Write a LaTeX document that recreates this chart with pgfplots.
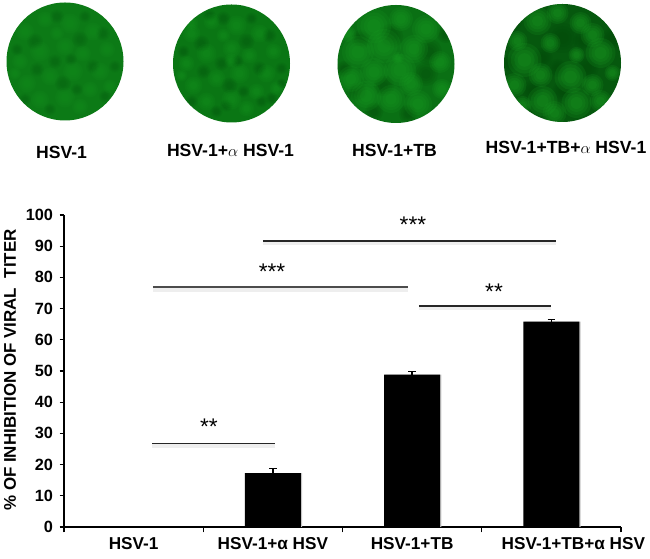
\documentclass[border=0pt]{standalone}
\usepackage{fontspec}
\setmainfont{Liberation Sans}
\usepackage{pgfplots}
\pgfplotsset{compat=1.18}

\definecolor{discA}{RGB}{12,122,22}
\definecolor{discB}{RGB}{10,118,20}
\definecolor{discC}{RGB}{10,112,20}
\definecolor{discD}{RGB}{6,88,14}
\definecolor{spotlight}{RGB}{28,165,38}
\definecolor{spotdark}{RGB}{3,72,10}

\newcommand{\spotop}{0.14}
% spots in px, from the centre of the disc: x/y/radius
\newcommand{\spots}[2]{%
  \edef\spotlist{#2}%
  \foreach \a/\b/\r in \spotlist {
    \foreach \s in {1,0.8,0.6,0.4} {
      \fill[#1, opacity=\spotop] (\a,\b) circle ({\r*\s});
    }
  }%
}
\newcommand{\disc}[5]{% cx, cy, colour, bright list, dark list
  \begin{scope}[shift={(#1,#2)}]
    \begin{scope}
      \clip (0,0) ellipse (58.5 and 59);
      \fill[#3] (-60,-60) rectangle (60,60);
      \spots{spotdark}{#5}
      \spots{spotlight}{#4}
    \end{scope}
  \end{scope}
}

\newcommand{\fineA}{-40/-30/9,-20/-42/8,5/-38/10,28/-30/9,42/-12/8,-45/0/8,-25/-10/10,0/-15/9,18/-8/8,35/10/9,-38/22/9,-15/15/9,8/10/10,25/28/8,-25/38/9,0/36/10,15/45/8,-8/-28/7,45/25/7,-50/12/6}
\newcommand{\fineB}{-30/-20/8,-8/-45/7,15/-22/8,38/-28/7,-48/-12/6,-10/0/7,6/-2/6,28/5/7,50/5/6,-28/8/7,-2/22/8,40/35/6,-40/38/6,12/28/6,-15/48/6,20/-45/6}

\begin{document}
\begin{tikzpicture}[font=\bfseries]
\path[use as bounding box] (0,0) rectangle (487.5pt,419.25pt);

\begin{scope}[x=0.75pt,y=-0.75pt,shift={(0pt,419.25pt)}]
  \renewcommand{\spotop}{0.07}
  \disc{65}{61.5}{discA}{\fineA}{\fineB}
  \renewcommand{\spotop}{0.09}
  \disc{231.5}{63.5}{discB}{\fineA,0/-3/7,-40/-40/7}{\fineB,30/38/6,50/20/5,-5/42/6,-22/-48/6}
  \renewcommand{\spotop}{0.14}
  \disc{396}{64}{discC}{-22/-38/17,5/-45/12,30/-35/14,-38/-12/16,-12/-18/17,18/-15/14,-45/15/13,-22/8/14,4/6/16,15/20/12,44/-2/11,-30/32/15,-5/35/14,22/40/14,46/25/10,-48/-30/8,2/-6/6}{-5/-28/12,33/-12/13,-35/-25/9,-38/28/9,-12/22/10,30/10/12,12/50/9,-22/48/9,-52/5/8,50/-30/9}
  \renewcommand{\spotop}{0.16}
  \disc{562.5}{63}{discD}{-25/-42/14,-5/-50/11,18/-40/11,30/-28/12,-45/-22/10,-38/-3/17,-12/-20/10,38/-10/15,14/-8/8,-22/12/12,8/14/16,30/22/11,-48/22/12,-20/38/15,-8/50/12,14/40/15,38/38/11,-40/42/9,50/10/8}{0/-25/15,-20/-5/10,20/-22/9,25/5/11,-30/28/10,0/28/10,50/-25/10,-52/0/8,-50/-40/9,45/50/10,-5/5/9}

  \node[font=\bfseries\fontsize{13.2}{14}\selectfont] at (61.5,152) {HSV-1};
  \node[font=\bfseries\fontsize{13.2}{14}\selectfont] at (230.5,150) {HSV-1+$\alpha$ HSV-1};
  \node[font=\bfseries\fontsize{13.2}{14}\selectfont] at (394.5,150) {HSV-1+TB};
  \node[font=\bfseries\fontsize{13.2}{14}\selectfont] at (566,147) {HSV-1+TB+$\alpha$ HSV-1};
\end{scope}

\begin{axis}[
  at={(48pt,24pt)}, anchor=south west,
  scale only axis, width=417.75pt, height=234pt,
  xmin=0, xmax=4, ymin=0, ymax=100,
  axis x line=bottom, axis y line=left,
  axis line style={-, line width=0.8pt},
  clip=false,
  xtick={0.5,1.5,2.5,3.5},
  xticklabels={HSV-1,HSV-1+α HSV,HSV-1+TB,\hspace*{33pt}HSV-1+TB+α HSV},
  minor xtick={0,1,2,3,4},
  major x tick style={draw=none},
  minor x tick style={line width=0.8pt,black},
  ytick={0,10,...,100},
  y tick style={line width=0.8pt,black},
  tick align=outside,
  major tick length=3.2pt, minor tick length=4pt,
  x tick label style={font=\bfseries\fontsize{12.9}{14}\selectfont, yshift=-14pt, anchor=base, text depth=0pt},
  y tick label style={font=\bfseries\fontsize{12.2}{14}\selectfont, xshift=-1.5pt},
  /pgf/number format/assume math mode=true,
  ylabel={\% OF INHIBITION OF VIRAL\ \ TITER},
  ylabel style={at={(axis description cs:-0.097,0.503)}, anchor=center,
    font=\bfseries\fontsize{12.7}{14}\selectfont},
]
% bars, with the faint shadow of the original
\addplot[ybar, bar width=42pt, bar shift=1pt, fill=gray!45, draw=none, forget plot]
  coordinates {(1.5,17.3) (2.5,48.8) (3.5,65.8)};
\addplot[ybar, bar width=42pt, bar shift=0pt, fill=black, draw=none,
  error bars/.cd, y dir=plus, y explicit,
  error bar style={line width=1pt, black},
  error mark options={rotate=90, mark size=2.8pt, line width=1pt, black}]
  coordinates {
    (0.5,0)
    (1.5,17.3) +- (0,1.4)
    (2.5,48.8) +- (0,1.0)
    (3.5,65.8) +- (0,0.8)
  };
% significance lines
\addplot[gray!30, line width=2.5pt, opacity=0.45] coordinates {(0.632,26.0) (1.515,26.0)};
\addplot[black!85, line width=1pt] coordinates {(0.632,26.8) (1.515,26.8)};
\addplot[gray!30, line width=2.5pt, opacity=0.45] coordinates {(0.639,76.0) (2.47,76.0)};
\addplot[black!70, line width=1.1pt] coordinates {(0.639,76.9) (2.47,76.9)};
\addplot[gray!30, line width=2.5pt, opacity=0.45] coordinates {(1.429,90.9) (3.533,90.9)};
\addplot[black!85, line width=1pt] coordinates {(1.429,91.7) (3.533,91.7)};
\addplot[gray!30, line width=2.5pt, opacity=0.45] coordinates {(2.549,70.0) (3.497,70.0)};
\addplot[black!85, line width=1pt] coordinates {(2.549,70.8) (3.497,70.8)};
\node[font=\mdseries\fontsize{17}{17}\selectfont, yshift=-2pt] at (axis cs:1.04,33) {**};
\node[font=\mdseries\fontsize{17}{17}\selectfont, yshift=-2pt] at (axis cs:1.494,82.7) {***};
\node[font=\mdseries\fontsize{17}{17}\selectfont, yshift=-2pt] at (axis cs:2.506,97.8) {***};
\node[font=\mdseries\fontsize{17}{17}\selectfont, yshift=-2pt] at (axis cs:3.088,76.3) {**};
\end{axis}
\end{tikzpicture}
\end{document}
